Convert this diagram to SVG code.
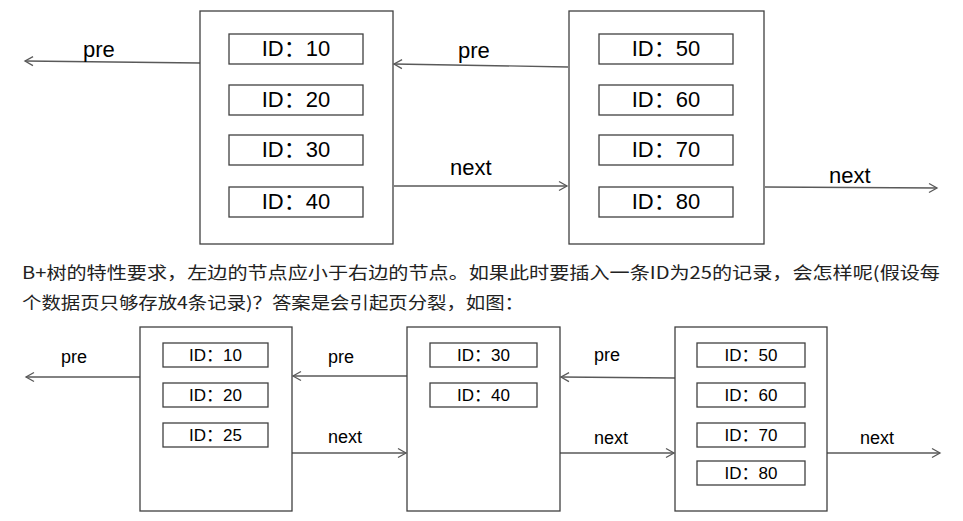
<svg xmlns="http://www.w3.org/2000/svg" width="963" height="521" viewBox="0 0 963 521">
<style>
.page{fill:#fff;stroke:#404040;stroke-width:1.3}
.rec{fill:#fff;stroke:#404040;stroke-width:1.3}
.t1{font-family:"Liberation Sans","Noto Sans CJK SC",sans-serif;font-size:22px;fill:#000;text-anchor:middle}
.t2{font-family:"Liberation Sans","Noto Sans CJK SC",sans-serif;font-size:17px;fill:#000;text-anchor:middle}
.l1{font-family:"Liberation Sans",sans-serif;font-size:22px;fill:#000}
.l2{font-family:"Liberation Sans",sans-serif;font-size:18px;fill:#000}
.para{font-family:"Noto Sans CJK SC","Liberation Sans",sans-serif;font-size:17px;fill:#222}
.ln{stroke:#595959;stroke-width:1.3;fill:none;marker-end:url(#ah)}
</style>
<defs>
<marker id="ah" markerUnits="userSpaceOnUse" markerWidth="12" markerHeight="12" refX="9" refY="5" orient="auto" viewBox="0 0 12 10">
<path d="M1,0.5 L9,5 L1,9.5" fill="none" stroke="#595959" stroke-width="1.3"/>
</marker>
</defs>
<rect width="963" height="521" fill="#fff"/>

<g id="connectors">
<line class="ln" x1="200" y1="63" x2="25" y2="61"/>
<line class="ln" x1="568" y1="67" x2="394" y2="64"/>
<line class="ln" x1="394" y1="186" x2="567" y2="186"/>
<line class="ln" x1="765" y1="187" x2="937" y2="188"/>
<line class="ln" x1="140" y1="377" x2="26" y2="377"/>
<line class="ln" x1="407" y1="376" x2="293" y2="376"/>
<line class="ln" x1="292" y1="453" x2="406" y2="453"/>
<line class="ln" x1="675" y1="378" x2="561" y2="377"/>
<line class="ln" x1="560" y1="453" x2="674" y2="453"/>
<line class="ln" x1="827" y1="453" x2="940" y2="453"/>
<text class="l1" x="83" y="57">pre</text>
<text class="l1" x="458" y="58">pre</text>
<text class="l1" x="450" y="175">next</text>
<text class="l1" x="829" y="183">next</text>
<text class="l2" x="61" y="363">pre</text>
<text class="l2" x="328" y="363">pre</text>
<text class="l2" x="328" y="443">next</text>
<text class="l2" x="594" y="361">pre</text>
<text class="l2" x="594" y="444">next</text>
<text class="l2" x="860" y="444">next</text>
</g>

<g id="nodeA">
<rect class="page" x="200" y="11" width="193" height="233"/>
<rect class="rec" x="229" y="34" width="134" height="30"/>
<rect class="rec" x="229" y="85" width="134" height="30"/>
<rect class="rec" x="229" y="135" width="134" height="30"/>
<rect class="rec" x="229" y="187" width="134" height="30"/>
<text class="t1" x="296" y="56">ID：10</text>
<text class="t1" x="296" y="107">ID：20</text>
<text class="t1" x="296" y="157">ID：30</text>
<text class="t1" x="296" y="209">ID：40</text>
</g>

<g id="nodeB">
<rect class="page" x="569" y="11" width="195" height="233"/>
<rect class="rec" x="599" y="34" width="134" height="30"/>
<rect class="rec" x="599" y="85" width="134" height="30"/>
<rect class="rec" x="599" y="135" width="134" height="30"/>
<rect class="rec" x="599" y="187" width="134" height="30"/>
<text class="t1" x="666" y="56">ID：50</text>
<text class="t1" x="666" y="107">ID：60</text>
<text class="t1" x="666" y="157">ID：70</text>
<text class="t1" x="666" y="209">ID：80</text>
</g>

<g id="paragraph">
<text class="para" x="22" y="279" textLength="918" lengthAdjust="spacingAndGlyphs">B+树的特性要求，左边的节点应小于右边的节点。如果此时要插入一条ID为25的记录，会怎样呢(假设每</text>
<text class="para" x="22" y="309" textLength="502" lengthAdjust="spacingAndGlyphs">个数据页只够存放4条记录)？答案是会引起页分裂，如图：</text>
</g>

<g id="nodeC">
<rect class="page" x="140" y="327" width="152" height="184"/>
<rect class="rec" x="163" y="343" width="105" height="24"/>
<rect class="rec" x="163" y="383" width="105" height="24"/>
<rect class="rec" x="163" y="423" width="105" height="24"/>
<text class="t2" x="215.5" y="361">ID：10</text>
<text class="t2" x="215.5" y="401">ID：20</text>
<text class="t2" x="215.5" y="441">ID：25</text>
</g>

<g id="nodeD">
<rect class="page" x="407" y="327" width="153" height="184"/>
<rect class="rec" x="430" y="343" width="107" height="24"/>
<rect class="rec" x="430" y="383" width="107" height="24"/>
<text class="t2" x="483.5" y="361">ID：30</text>
<text class="t2" x="483.5" y="401">ID：40</text>
</g>

<g id="nodeE">
<rect class="page" x="675" y="327" width="152" height="184"/>
<rect class="rec" x="697" y="343" width="108" height="24"/>
<rect class="rec" x="697" y="383" width="108" height="24"/>
<rect class="rec" x="697" y="423" width="108" height="24"/>
<rect class="rec" x="697" y="461" width="108" height="24"/>
<text class="t2" x="751" y="361">ID：50</text>
<text class="t2" x="751" y="401">ID：60</text>
<text class="t2" x="751" y="441">ID：70</text>
<text class="t2" x="751" y="479">ID：80</text>
</g>
</svg>
